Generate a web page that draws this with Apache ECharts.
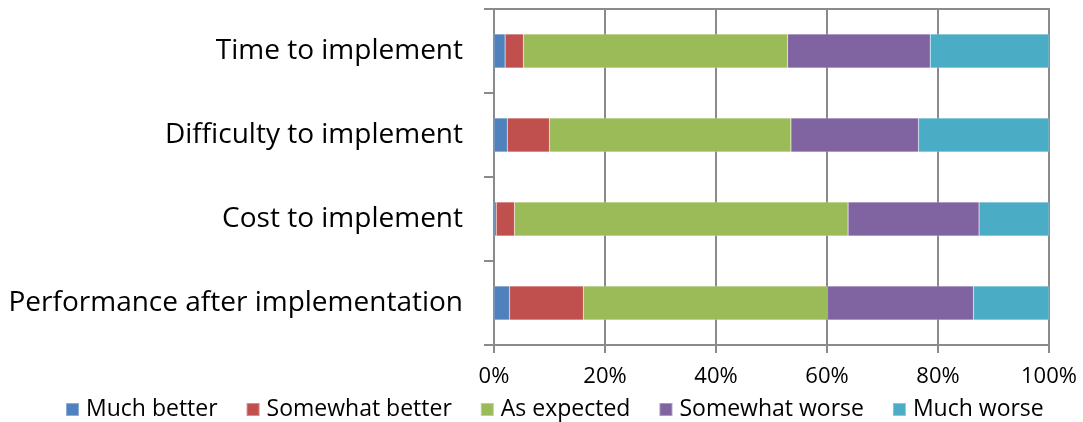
<!DOCTYPE html>
<html>
<head>
<meta charset="utf-8">
<script src="https://cdn.jsdelivr.net/npm/echarts@6/dist/echarts.min.js"></script>
<style>
html,body{margin:0;padding:0;background:#fff;}
#chart{width:1083px;height:422px;}
</style>
</head>
<body>
<div id="chart"></div>
<script>
const categories = ['Performance after implementation', 'Cost to implement', 'Difficulty to implement', 'Time to implement'];
const seriesNames = ['Much better', 'Somewhat better', 'As expected', 'Somewhat worse', 'Much worse'];
const muchBetter     = [2.8, 0.4, 2.4, 2.0];
const somewhatBetter = [13.3, 3.3, 7.6, 3.3];
const asExpected     = [44.0, 60.1, 43.5, 47.6];
const somewhatWorse  = [26.3, 23.6, 23.0, 25.7];
const muchWorse      = [13.6, 12.6, 23.5, 21.4];
const xTickLabels = ['0%', '20%', '40%', '60%', '80%', '100%'];

const colors = ['#4F81BD', '#C0504D', '#9BBB59', '#8064A2', '#4BACC6'];
const values = [muchBetter, somewhatBetter, asExpected, somewhatWorse, muchWorse];
const FONT = 'Open Sans';
const gridColor = '#8a8a8a';

const chart = echarts.init(document.getElementById('chart'), null, {renderer: 'canvas'});
chart.setOption({
  animation: false,
  color: colors,
  textStyle: {fontFamily: FONT, color: '#000'},
  grid: {left: 494, right: 34, top: 9, bottom: 77, show: true, borderColor: gridColor, borderWidth: 2},
  legend: {
    left: 60, top: 393,
    itemWidth: 13, itemHeight: 13, itemGap: 28,
    icon: 'rect',
    textStyle: {fontFamily: FONT, fontSize: 23, color: '#000', padding: [0, 0, 0, 2]},
    data: seriesNames
  },
  xAxis: {
    type: 'value', min: 0, max: 100, interval: 20,
    axisLine: {show: true, lineStyle: {color: gridColor, width: 2}},
    axisTick: {show: true, length: 8, lineStyle: {color: gridColor, width: 2}},
    splitLine: {show: true, lineStyle: {color: gridColor, width: 2}},
    axisLabel: {
      margin: 21, fontSize: 22, fontFamily: FONT, color: '#000',
      formatter: function (v) { return xTickLabels[Math.round(v / 20)]; }
    }
  },
  yAxis: {
    type: 'category', data: categories,
    axisLine: {show: true, lineStyle: {color: gridColor, width: 2}},
    axisTick: {show: true, length: 10, lineStyle: {color: gridColor, width: 2}},
    axisLabel: {margin: 31, fontSize: 28, fontFamily: FONT, color: '#000'}
  },
  series: seriesNames.map(function (name, i) {
    return {
      name: name, type: 'bar', stack: 'total', barWidth: 34,
      data: values[i],
      itemStyle: {color: colors[i], borderColor: 'rgba(255,255,255,0.35)', borderWidth: 0.5}
    };
  })
});
</script>
</body>
</html>
